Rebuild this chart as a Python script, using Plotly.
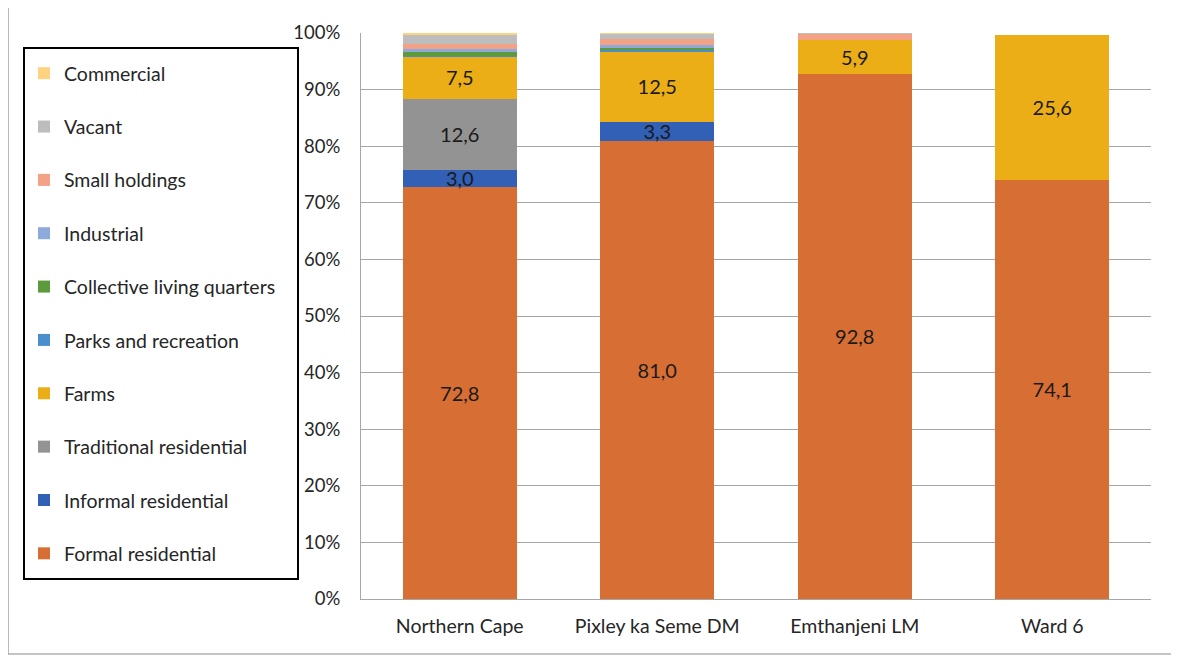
import plotly.graph_objects as go

categories = ["Northern Cape", "Pixley ka Seme DM", "Emthanjeni LM", "Ward 6"]

formal_residential = [72.8, 81.0, 92.8, 74.1]
informal_residential = [3.0, 3.3, 0.0, 0.0]
traditional_residential = [12.6, 0.0, 0.0, 0.0]
farms = [7.5, 12.5, 5.9, 25.6]
parks_recreation = [0.1, 0.2, 0.0, 0.0]
collective_living = [0.7, 0.3, 0.0, 0.0]
industrial = [0.4, 0.5, 0.0, 0.0]
small_holdings = [0.9, 1.1, 1.2, 0.0]
vacant = [1.8, 1.0, 0.1, 0.0]
commercial = [0.2, 0.1, 0.0, 0.0]

series_names = ["Formal residential", "Informal residential", "Traditional residential",
                "Farms", "Parks and recreation", "Collective living quarters",
                "Industrial", "Small holdings", "Vacant", "Commercial"]
series_values = [formal_residential, informal_residential, traditional_residential,
                 farms, parks_recreation, collective_living, industrial,
                 small_holdings, vacant, commercial]
colors = ["#D76E33", "#3160B6", "#939393", "#ECAE16", "#4A8FCC", "#5B9B3C",
          "#8EA9DB", "#F3A285", "#BDBDBD", "#FFD27F"]

OFF = 8  # page body margin
W, H = 1179 - OFF, 655 - OFF
L, R, T, B = 361 - OFF, 1151 - OFF, 33 - OFF, 599 - OFF
pw, ph = R - L, B - T


def px(x):
    return (x - OFF - L) / pw


def py(y):
    return (B - (y - OFF)) / ph


FONT = "Lato"

fig = go.Figure()
n = len(series_names)
for i, (name, vals, col) in enumerate(zip(series_names, series_values, colors)):
    labels = [f"{v:.1f}".replace(".", ",") if v >= 2.5 else "" for v in vals]
    fig.add_trace(go.Bar(
        x=categories, y=vals, name=name,
        marker=dict(color=col, line=dict(width=0)),
        text=labels, texttemplate="%{text}",
        textposition="inside", insidetextanchor="middle",
        textangle=0, constraintext="none",
        textfont=dict(family=FONT, size=20, color="#1a1a1a"),
        legendgroup=name, legendrank=100 + (n - i),
        hoverinfo="x+y+name",
    ))

shapes = [
    # outer chart border
    dict(type="rect", xref="paper", yref="paper",
         x0=px(8), x1=px(1175), y0=py(654), y1=py(4),
         line=dict(color="#8a8a8a", width=1.2), layer="below"),
    dict(type="line", xref="paper", yref="paper",
         x0=px(8), x1=px(1175), y0=py(4), y1=py(4),
         line=dict(color="#111111", width=1.5)),
    # legend box
    dict(type="rect", xref="paper", yref="paper",
         x0=px(24), x1=px(298), y0=py(579), y1=py(48),
         line=dict(color="#000000", width=2)),
]

fig.update_layout(
    width=W, height=H,
    margin=dict(l=L, r=W - R, t=T, b=H - B, pad=0),
    barmode="stack", bargap=0.425,
    paper_bgcolor="white", plot_bgcolor="white",
    font=dict(family=FONT, size=19, color="#333333"),
    separators=",.",
    showlegend=True,
    legend=dict(
        x=px(24), xanchor="left", y=py(54), yanchor="top",
        traceorder="grouped", tracegroupgap=25,
        font=dict(family=FONT, size=19.5, color="#262626"),
        bgcolor="rgba(0,0,0,0)", borderwidth=0,
    ),
    xaxis=dict(
        type="category", categoryorder="array", categoryarray=categories,
        range=[-0.5, 3.5], showgrid=False, showline=True,
        linecolor="#A6A6A6", linewidth=1, ticks="",
        ticklabelstandoff=10,
        tickfont=dict(family=FONT, size=19.5, color="#262626"),
    ),
    yaxis=dict(
        range=[0, 100], dtick=10, ticksuffix="%",
        showgrid=True, gridcolor="#A6A6A6", gridwidth=1,
        showline=True, linecolor="#A6A6A6", linewidth=1,
        zeroline=False, ticks="", ticklabelstandoff=16,
        tickfont=dict(family=FONT, size=18.5, color="#262626"),
    ),
    shapes=shapes,
)

fig.write_html("out.html")
